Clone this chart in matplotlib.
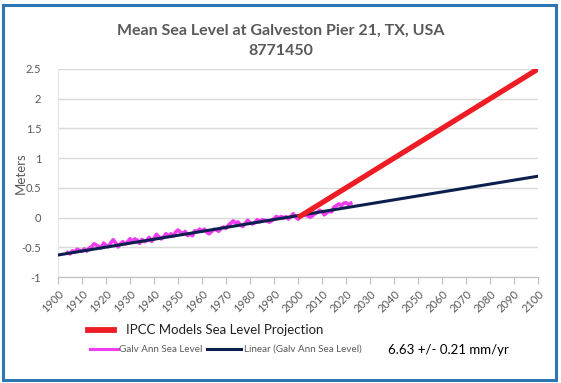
import matplotlib
matplotlib.use("Agg")
import matplotlib.pyplot as plt
from matplotlib.lines import Line2D
from matplotlib.patches import Rectangle

plt.rcParams['font.family'] = ['Lato', 'DejaVu Sans']

title = "Mean Sea Level at Galveston Pier 21, TX, USA\n8771450"
ylabel = "Meters"
rate_text = "6.63 +/- 0.21 mm/yr"

years = list(range(1904, 2023))
sea_level = [
    -0.589, -0.612, -0.560, -0.584, -0.532, -0.555, -0.564, -0.527, -0.565, -0.514,
    -0.492, -0.441, -0.464, -0.487, -0.511, -0.429, -0.467, -0.491, -0.424, -0.373,
    -0.426, -0.494, -0.443, -0.406, -0.444, -0.408, -0.356, -0.410, -0.358, -0.381,
    -0.435, -0.368, -0.406, -0.385, -0.333, -0.401, -0.350, -0.283, -0.322, -0.360,
    -0.323, -0.272, -0.310, -0.273, -0.312, -0.245, -0.209, -0.247, -0.270, -0.234,
    -0.302, -0.280, -0.304, -0.222, -0.231, -0.194, -0.232, -0.196, -0.249, -0.272,
    -0.236, -0.199, -0.207, -0.231, -0.179, -0.158, -0.181, -0.129, -0.093, -0.056,
    -0.094, -0.073, -0.126, -0.150, -0.098, -0.046, -0.085, -0.108, -0.086, -0.035,
    -0.073, -0.037, -0.045, -0.053, -0.077, -0.055, -0.018, 0.018, -0.005, 0.017,
    -0.007, 0.015, -0.024, 0.013, 0.065, 0.011, -0.027, 0.025, 0.061, 0.038,
    0.030, 0.006, 0.028, 0.064, 0.086, 0.123, 0.099, 0.046, 0.083, 0.104,
    0.096, 0.177, 0.200, 0.230, 0.200, 0.240, 0.250, 0.220, 0.240,
]

trend_years = [1900, 2100]
trend_values = [-0.63, 0.696]

ipcc_years = [2000, 2100]
ipcc_values = [0.0, 2.5]

xticks = list(range(1900, 2101, 10))
yticks = [-1, -0.5, 0, 0.5, 1, 1.5, 2, 2.5]
ytick_labels = ["-1", "-0.5", "0", "0.5", "1", "1.5", "2", "2.5"]

RED = "#EE1C25"
NAVY = "#0D1F4F"
PINK = "#F03CF0"
GRAY = "#595959"
GRID = "#D9D9D9"

fig = plt.figure(figsize=(5.61, 3.83), dpi=100)
W, H = 561, 383
ax = fig.add_axes([58 / W, 1 - 277 / H, (538 - 58) / W, (277 - 69) / H])

ax.plot(years, sea_level, color=PINK, lw=2.6, zorder=2)
ax.plot(trend_years, trend_values, color=NAVY, lw=2.2, zorder=3)
ax.plot(ipcc_years, ipcc_values, color=RED, lw=3.8, zorder=4, solid_capstyle='butt')

ax.set_xlim(1900, 2100)
ax.set_ylim(-1, 2.5)
ax.set_xticks(xticks)
ax.set_xticklabels([str(x) for x in xticks], rotation=45, ha='right',
                   rotation_mode='anchor', fontsize=8, color=GRAY)
ax.set_yticks(yticks)
ax.set_yticklabels(ytick_labels, fontsize=8, color=GRAY)
ax.yaxis.grid(True, color=GRID, lw=1)
ax.set_axisbelow(True)
for s in ['top', 'right']:
    ax.spines[s].set_visible(False)
ax.spines['left'].set_color('#DCE6F2')
ax.spines['bottom'].set_color('#BFBFBF')
ax.tick_params(axis='y', length=0, pad=12)
ax.tick_params(axis='x', length=5, color='#BFBFBF', pad=3)
ax.set_ylabel(ylabel, fontsize=9.5, color=GRAY, labelpad=4)
ax.yaxis.set_label_coords(-0.065, 0.5)

fig.text(0.5, 1 - 41 / H, title, ha='center', va='center', fontsize=11.5,
         fontweight='bold', color=GRAY, linespacing=1.55)

# legend
def fx(px):
    return px / W

def fy(py):
    return 1 - py / H

fig.add_artist(Line2D([fx(88), fx(114)], [fy(330), fy(330)], color=RED, lw=4.2))
fig.text(fx(126), fy(330), "IPCC Models Sea Level Projection", fontsize=9.5,
         color='#222222', va='center', ha='left')
fig.add_artist(Line2D([fx(90), fx(118)], [fy(349), fy(349)], color=PINK, lw=2.2))
fig.text(fx(119), fy(349), "Galv Ann Sea Level", fontsize=7.1, color=GRAY,
         va='center', ha='left')
fig.add_artist(Line2D([fx(207), fx(241)], [fy(349), fy(349)], color=NAVY, lw=2.2))
fig.text(fx(244), fy(349), "Linear (Galv Ann Sea Level)", fontsize=7.1, color=GRAY,
         va='center', ha='left')
fig.text(fx(388), fy(350), rate_text, fontsize=9.5, color='black',
         va='center', ha='left')

fig.add_artist(Rectangle((2.5 / W, 1 - 379.5 / H), (556 - 2.5) / W, (379.5 - 4.5) / H,
                         transform=fig.transFigure, fill=False,
                         edgecolor='#2E75B6', lw=2.2))

fig.savefig("out.png", dpi=100, facecolor='white')
